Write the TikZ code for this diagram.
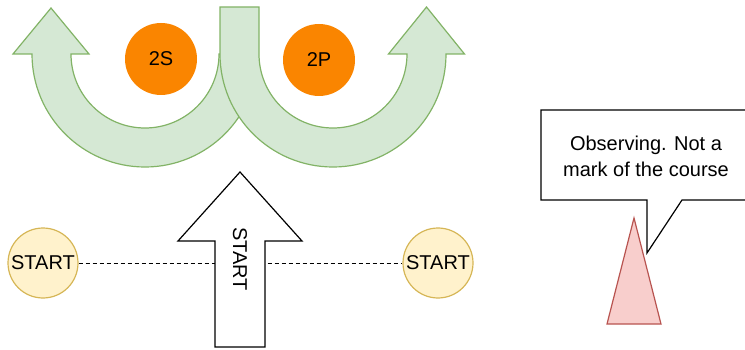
\documentclass[tikz,border=0pt]{standalone}
\usepackage{fontspec}
\setmainfont{Liberation Sans}
\begin{document}
\begin{tikzpicture}[x=1pt,y=-1pt,
  uarrow/.style={fill=uGreen, draw=uGreenLine, line width=1.2pt, line join=miter},
  markdot/.style={circle, fill=markOrange, minimum size=72pt, inner sep=0pt, font=\fontsize{20}{24}\selectfont},
  startc/.style={circle, fill=startFill, draw=startLine, line width=1.2pt, minimum size=70pt, inner sep=0pt, font=\fontsize{20}{24}\selectfont},
  lbl/.style={font=\fontsize{20}{26}\selectfont, align=center, inner sep=0pt},
]
\definecolor{uGreen}{HTML}{D5E8D4}
\definecolor{uGreenLine}{HTML}{82B366}
\definecolor{markOrange}{HTML}{FA8500}
\definecolor{startFill}{HTML}{FFF2CC}
\definecolor{startLine}{HTML}{D6B656}
\definecolor{buoyFill}{HTML}{F8CECC}
\definecolor{buoyLine}{HTML}{B85450}
\useasboundingbox (0,0) rectangle (745,350);

% left U-turn arrow
\draw[uarrow] (258,54) arc[start angle=0, end angle=180, radius=113]
  -- (13,54) -- (51,8) -- (89,54) -- (71,54)
  arc[start angle=180, end angle=0, radius=74] -- cycle;
% right U-turn arrow
\draw[uarrow] (220,7) -- (220,54) arc[start angle=180, end angle=0, radius=113]
  -- (464.5,54) -- (426.5,7) -- (388.5,54) -- (407,54)
  arc[start angle=0, end angle=180, radius=74] -- (259,7) -- cycle;

% marks
\node[markdot] (m2s) at (161,59) {2S};
\node[markdot] (m2p) at (319,60) {2P};

% start line
\node[startc] (sl) at (43,263) {START};
\node[startc] (sr) at (438,263) {START};
\draw[dashed, line width=1pt, dash pattern=on 4pt off 3pt] (sl) -- (sr);

% start arrow
\draw[fill=white, draw=black, line width=1.2pt, line join=miter]
  (240,172) -- (302,241) -- (265,241) -- (265,347) -- (215,347) -- (215,241) -- (178,241) -- cycle;
\node[lbl, rotate=-90] (st) at (240,259) {START};

% buoy
\draw[fill=buoyFill, draw=buoyLine, line width=1.2pt] (634,218) -- (661,324) -- (607,324) -- cycle;

% callout
\draw[fill=white, draw=black, line width=1.2pt, line join=miter]
  (541,110) -- (760,110) -- (760,200) -- (682,200) -- (647,253) -- (647,200) -- (541,200) -- cycle;
\node[lbl] (note) at (646,156) {Observing. Not a\\mark of the course};
\end{tikzpicture}
\end{document}
